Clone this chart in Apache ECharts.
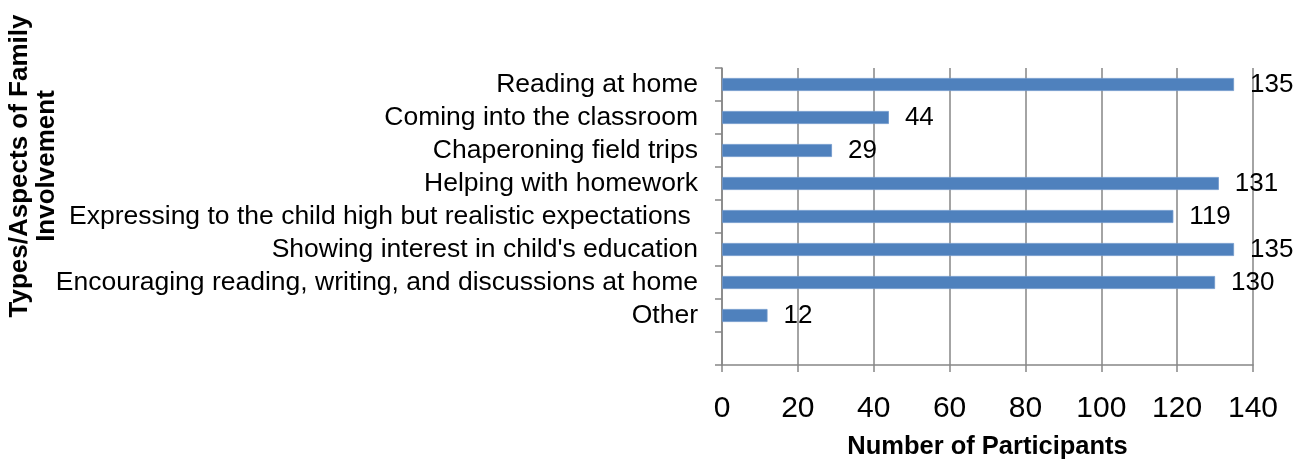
<!DOCTYPE html>
<html>
<head>
<meta charset="utf-8">
<script src="https://cdn.jsdelivr.net/npm/echarts@6/dist/echarts.min.js"></script>
<style>html,body{margin:0;padding:0;background:#fff}#c{width:1309px;height:460px}</style>
</head>
<body>
<div id="c"></div>
<script>
const categories = [
  'Reading at home',
  'Coming into the classroom',
  'Chaperoning field trips',
  'Helping with homework',
  'Expressing to the child high but realistic expectations ',
  "Showing interest in child's education",
  'Encouraging reading, writing, and discussions at home',
  'Other',
  ''
];
const participants = [135, 44, 29, 131, 119, 135, 130, 12, null];
const xTicks = [0, 20, 40, 60, 80, 100, 120, 140];
const xTitle = 'Number of Participants';
const yTitle = 'Types/Aspects of Family\nInvolvement';

const FONT = '"Liberation Sans", Arial, sans-serif';
const chart = echarts.init(document.getElementById('c'), null, {renderer: 'canvas'});
chart.setOption({
  animation: false,
  backgroundColor: '#fff',
  grid: {left: 722, right: 56, top: 68, bottom: 95, containLabel: false, outerBoundsMode: 'none'},
  xAxis: {
    type: 'value', min: xTicks[0], max: xTicks[xTicks.length - 1], interval: 20,
    axisLine: {show: true, lineStyle: {color: '#868686', width: 1.5}},
    axisTick: {show: true, length: 7, lineStyle: {color: '#868686', width: 1.5}},
    splitLine: {show: true, lineStyle: {color: '#868686', width: 1.5}},
    axisLabel: {fontFamily: FONT, fontSize: 30, color: '#000', margin: 29},
    name: xTitle, nameLocation: 'middle', nameGap: 69,
    nameTextStyle: {fontFamily: FONT, fontSize: 25.5, fontWeight: 'bold', color: '#000'}
  },
  yAxis: {
    type: 'category', data: categories, inverse: true,
    axisLine: {show: true, lineStyle: {color: '#868686', width: 1.5}},
    axisTick: {show: true, length: 7, interval: 0, alignWithLabel: false, lineStyle: {color: '#868686', width: 1.5}},
    axisLabel: {fontFamily: FONT, fontSize: 26.5, color: '#000', margin: 24, interval: 0}
  },
  graphic: [{
    type: 'text', x: 33, y: 166, rotation: Math.PI / 2,
    style: {text: yTitle, x: 0, y: 0, align: 'center', verticalAlign: 'middle',
      font: 'bold 26px ' + FONT, fill: '#000', lineHeight: 27}
  }],
  series: [{
    type: 'bar', data: participants, barWidth: 13,
    itemStyle: {color: '#4F81BD', borderColor: '#6E97CA', borderWidth: 0.8},
    label: {show: true, position: 'right', distance: 16, fontFamily: FONT, fontSize: 26, color: '#000'}
  }]
});
</script>
</body>
</html>
